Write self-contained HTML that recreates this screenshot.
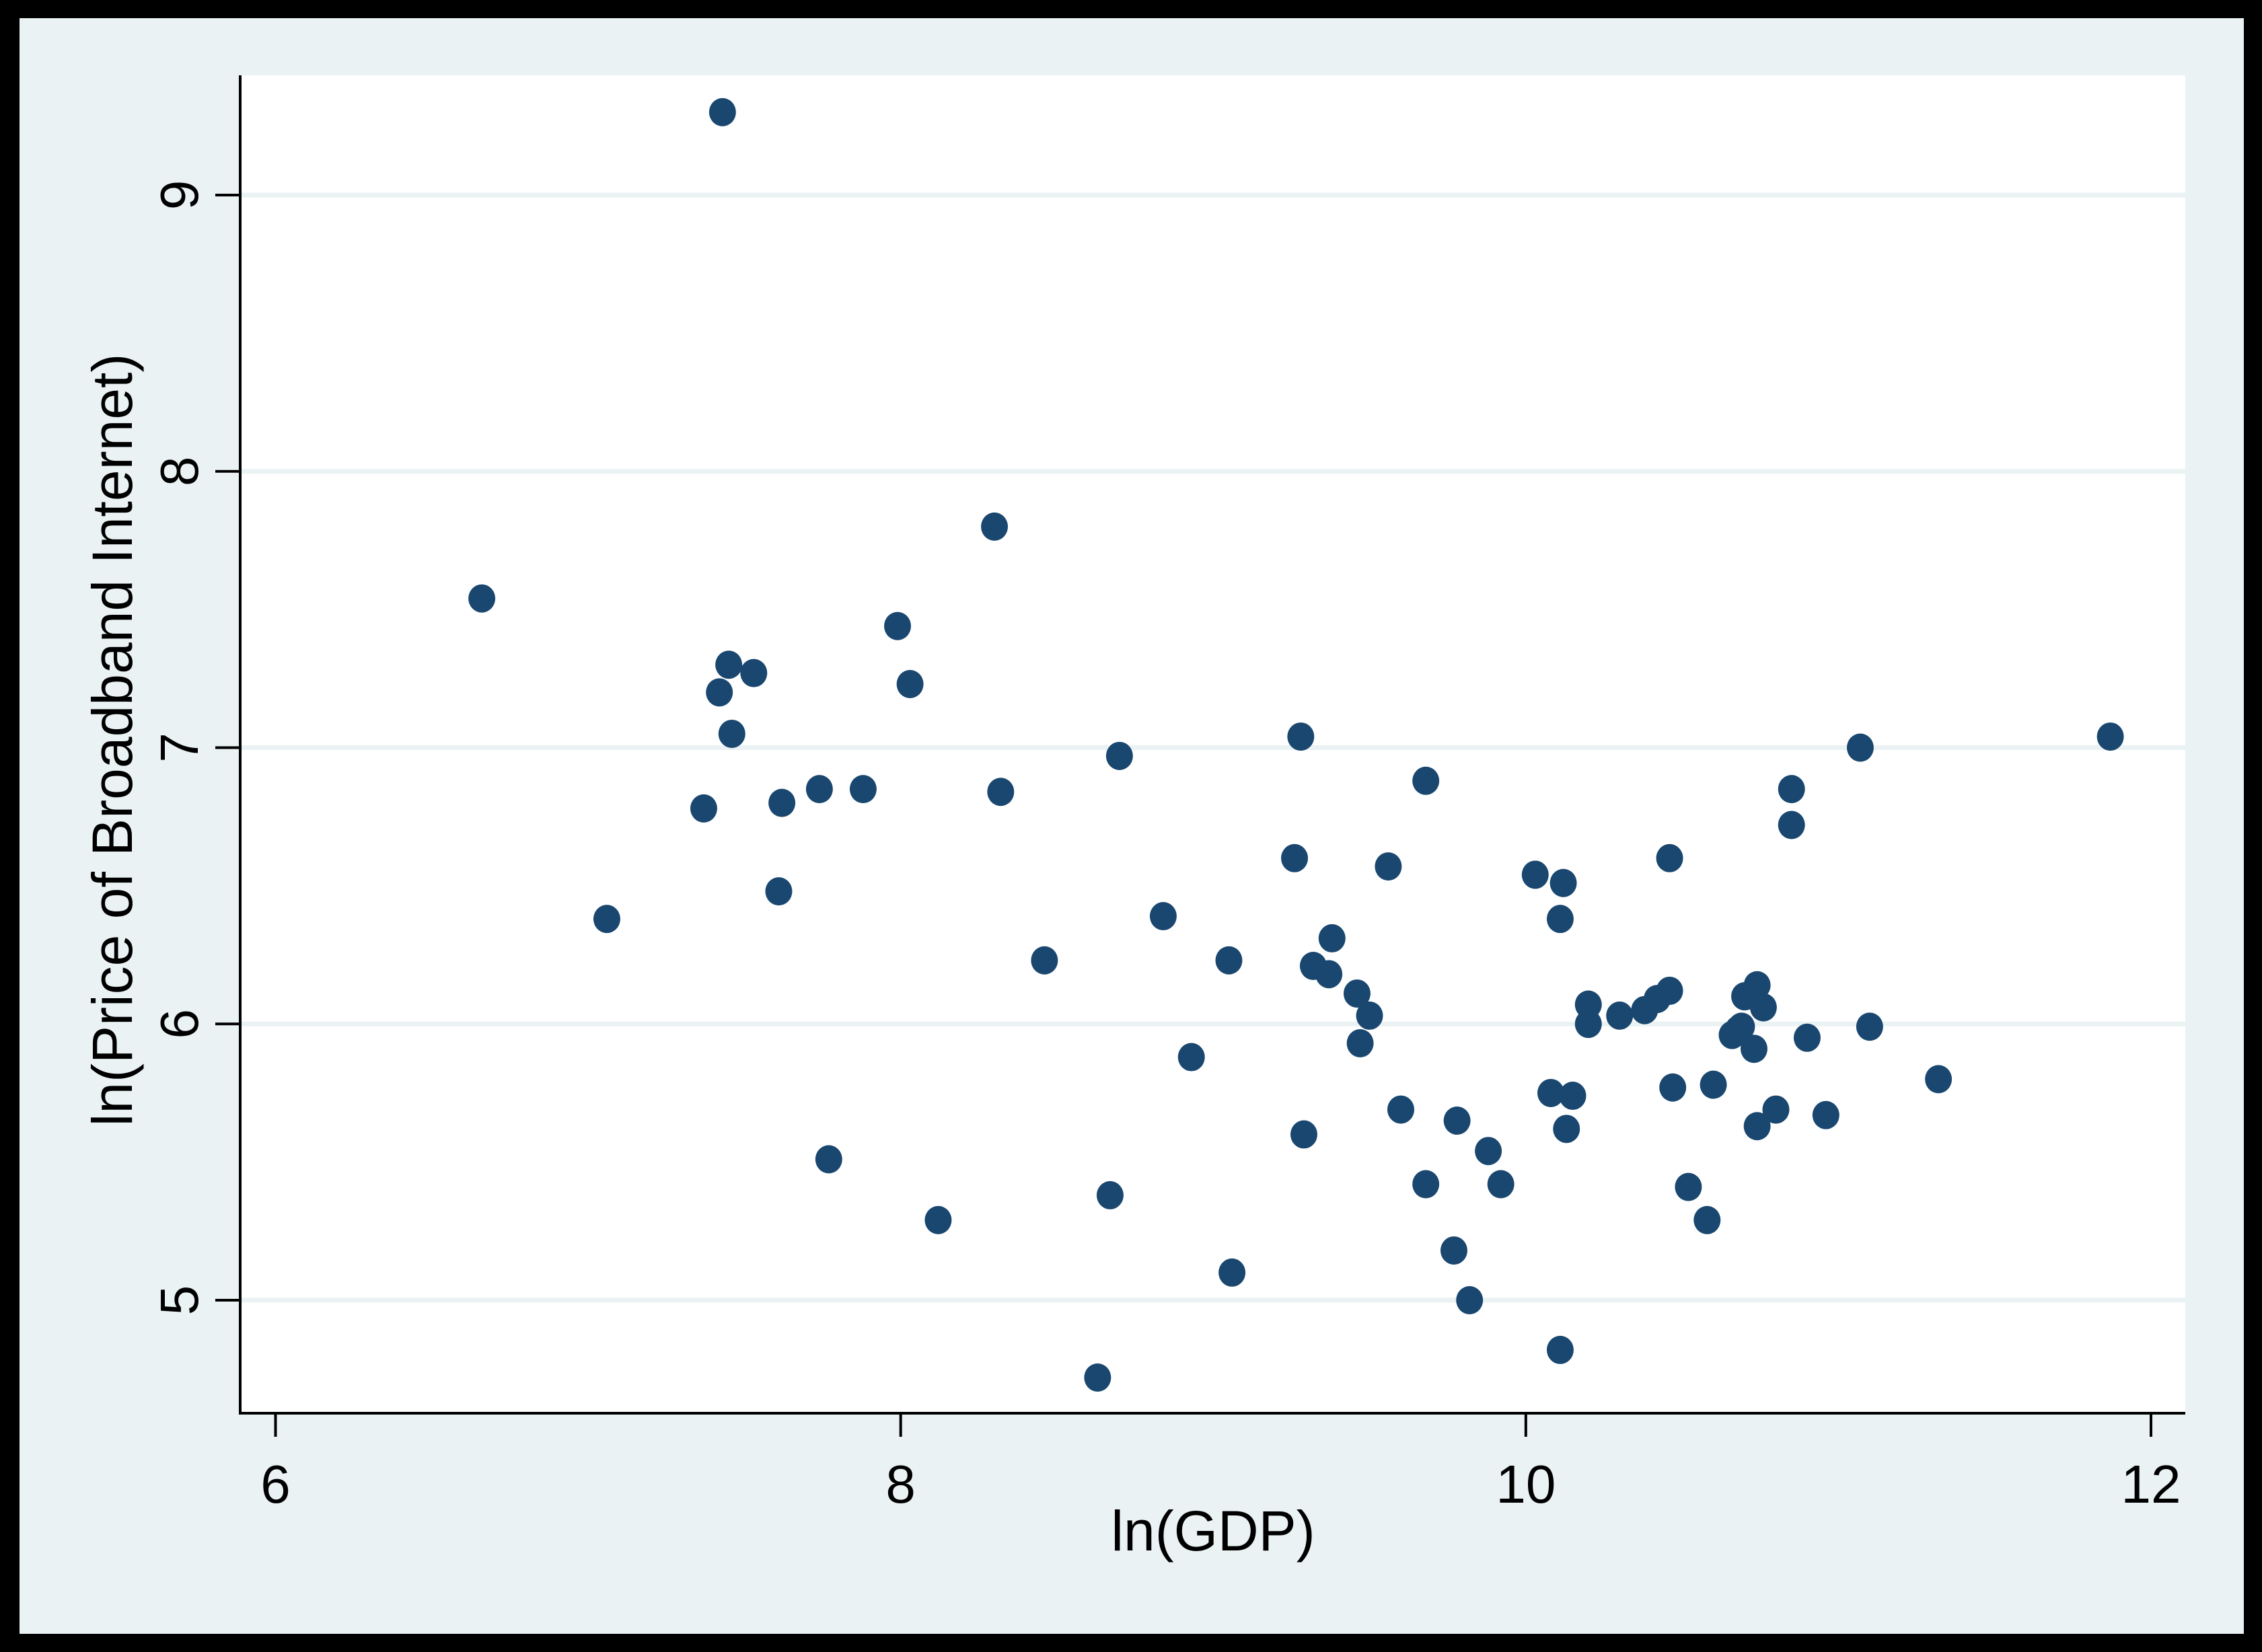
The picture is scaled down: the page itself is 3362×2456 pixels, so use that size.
<!DOCTYPE html>
<html><head><meta charset="utf-8"><style>
html,body{margin:0;padding:0;background:#000;}
svg{display:block;}
text{font-family:"Liberation Sans",Arial,sans-serif;fill:#000;}
</style></head><body>
<svg id="chart" width="3362" height="2456" viewBox="0 0 3362 2456" xmlns="http://www.w3.org/2000/svg">
<rect x="0" y="0" width="3362" height="2456" fill="#000"/>
<rect x="29" y="27" width="3306" height="2402" fill="#eaf2f3"/>
<rect x="356" y="112" width="2892" height="1989" fill="#fff"/>
<g id="grid"></g>
<g id="points"></g>
<line x1="357" y1="112" x2="357" y2="2102" stroke="#000" stroke-width="4"/>
<line x1="355" y1="2101" x2="3248" y2="2101" stroke="#000" stroke-width="4"/>
<g id="xticks"></g>
<g id="yticks"></g>
<text x="1803" y="2305" font-size="84" text-anchor="middle">ln(GDP)</text>
<text transform="translate(196,1100) rotate(-90)" font-size="84" text-anchor="middle">ln(Price of Broadband Internet)</text>
</svg>
<script>
const xTicks = [6, 8, 10, 12];
const yTicks = [5, 6, 7, 8, 9];
const gdp = [7.43,6.66,7.06,7.37,7.42,7.45,7.46,7.53,7.62,7.61,7.74,7.77,7.88,7.99,8.03,8.12,8.30,8.32,8.46,8.63,8.67,8.70,8.84,8.93,9.05,9.06,9.26,9.28,9.29,9.32,9.37,9.38,9.46,9.47,9.50,9.56,9.60,9.68,9.68,9.77,9.78,9.82,9.88,9.92,10.03,10.08,10.11,10.12,10.11,10.13,10.15,10.20,10.20,10.30,10.38,10.42,10.46,10.46,10.47,10.52,10.58,10.60,10.66,10.68,10.69,10.70,10.74,10.73,10.74,10.76,10.80,10.85,10.85,10.90,10.96,11.07,11.10,11.32,11.87];
const price = [9.30,7.54,6.38,6.78,7.20,7.30,7.05,7.27,6.80,6.48,6.85,5.51,6.85,7.44,7.23,5.29,7.80,6.84,6.23,4.72,5.38,6.97,6.39,5.88,6.23,5.10,6.60,7.04,5.60,6.21,6.18,6.31,6.11,5.93,6.03,6.57,5.69,6.88,5.42,5.18,5.65,5.00,5.54,5.42,6.54,5.75,6.38,6.51,4.82,5.62,5.74,6.07,6.00,6.03,6.05,6.09,6.60,6.12,5.77,5.41,5.29,5.78,5.96,5.98,5.99,6.10,6.14,5.91,5.63,6.06,5.69,6.72,6.85,5.95,5.67,7.00,5.99,5.80,7.04];

const NS = 'http://www.w3.org/2000/svg';
function xs(v){ return 409.5 + (v - 6) * (3197 - 409.5) / 6; }
function ys(v){ return 1933 - (v - 5) * (1933 - 290) / 4; }
function mk(tag, attrs){ const e = document.createElementNS(NS, tag); for (const k in attrs) e.setAttribute(k, attrs[k]); return e; }

const grid = document.getElementById('grid');
const yt = document.getElementById('yticks');
yTicks.forEach(v => {
  const g = mk('line', {x1:358, x2:3248, y1:ys(v), y2:ys(v), stroke:'#eaf2f3', 'stroke-width':7});
  
  
  grid.appendChild(g);
  const t = mk('line', {x1:320, x2:357, y1:ys(v), y2:ys(v), stroke:'#000', 'stroke-width':4});
  
  
  yt.appendChild(t);
  const l = mk('text', {transform:'translate(294,' + ys(v) + ') rotate(-90)', 'font-size':80, 'text-anchor':'middle'});
  l.textContent = v;
  
  
  yt.appendChild(l);
});
const xt = document.getElementById('xticks');
xTicks.forEach(v => {
  const t = mk('line', {x1:xs(v), x2:xs(v), y1:2101, y2:2136, stroke:'#000', 'stroke-width':4});
  
  
  xt.appendChild(t);
  const l = mk('text', {x:xs(v), y:2234, 'font-size':80, 'text-anchor':'middle'});
  l.textContent = v;
  
  
  xt.appendChild(l);
});
const pts = document.getElementById('points');
gdp.forEach((g, i) => {
  const c = mk('ellipse', {cx:xs(g), cy:ys(price[i]), rx:20, ry:21, fill:'#1a476f'});
  
  
  pts.appendChild(c);
});
</script>
</body></html>
